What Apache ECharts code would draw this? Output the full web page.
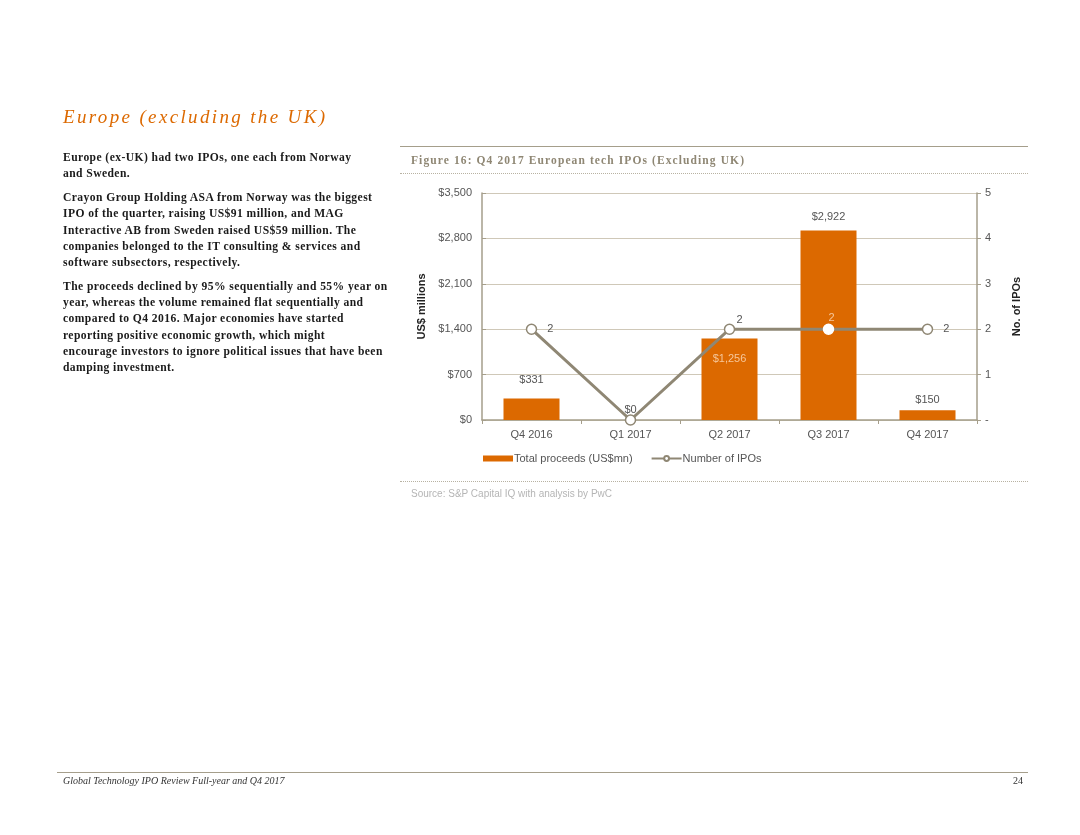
<!DOCTYPE html>
<html><head><meta charset="utf-8">
<script src="https://cdn.jsdelivr.net/npm/echarts@6/dist/echarts.min.js"></script>
<style>
html,body{margin:0;padding:0;background:#fff;width:1080px;height:835px;overflow:hidden;}
#chart{position:absolute;left:0;top:0;width:1080px;height:835px;}
.t{position:absolute;}
#h1{left:63px;top:106px;font-family:"Liberation Serif",serif;font-style:italic;font-size:19px;letter-spacing:2.35px;color:#dc6900;}
#body{left:63px;top:150px;font-family:"Liberation Serif",serif;font-size:11.6px;line-height:16.2px;color:#1a1a1a;font-weight:bold;letter-spacing:0.42px;white-space:nowrap;}
#body p{margin:0 0 7.8px 0;}
#cap{left:411px;top:154px;font-family:"Liberation Serif",serif;font-weight:bold;font-size:11.5px;letter-spacing:1.1px;color:#8f8774;}
#src{left:411px;top:488px;font-family:"Liberation Sans",Arial,sans-serif;font-size:10px;color:#b5b5b5;}
#foot{left:63px;top:775px;font-family:"Liberation Serif",serif;font-style:italic;font-size:10px;color:#333;}
#pg{left:1013px;top:775px;font-family:"Liberation Serif",serif;font-size:10px;color:#333;}
.ln{position:absolute;}
</style></head>
<body>
<div id="chart"></div>
<div class="t" id="h1">Europe (excluding the UK)</div>
<div class="t" id="body">
<p>Europe (ex-UK) had two IPOs, one each from Norway<br>and Sweden.</p>
<p>Crayon Group Holding ASA from Norway was the biggest<br>IPO of the quarter, raising US$91 million, and MAG<br>Interactive AB from Sweden raised US$59 million. The<br>companies belonged to the IT consulting &amp; services and<br>software subsectors, respectively.</p>
<p>The proceeds declined by 95% sequentially and 55% year on<br>year, whereas the volume remained flat sequentially and<br>compared to Q4 2016. Major economies have started<br>reporting positive economic growth, which might<br>encourage investors to ignore political issues that have been<br>damping investment.</p>
</div>
<div class="ln" style="left:400px;top:146px;width:628px;height:0;border-top:1.5px solid #a59e8b;"></div>
<div class="t" id="cap">Figure 16: Q4 2017 European tech IPOs (Excluding UK)</div>
<div class="ln" style="left:400px;top:173px;width:628px;height:0;border-top:1px dotted #b8b2a2;"></div>
<div class="ln" style="left:400px;top:481px;width:628px;height:0;border-top:1px dotted #b8b2a2;"></div>
<div class="t" id="src">Source: S&amp;P Capital IQ with analysis by PwC</div>
<div class="ln" style="left:57px;top:772px;width:971px;height:0;border-top:1px solid #a59e8b;"></div>
<div class="t" id="foot">Global Technology IPO Review Full-year and Q4 2017</div>
<div class="t" id="pg">24</div>
<script>
var categories = ["Q4 2016","Q1 2017","Q2 2017","Q3 2017","Q4 2017"];
var proceeds = [331, 0, 1256, 2922, 150];
var ipoCount = [2, 0, 2, 2, 2];
var leftTicks = ["$0","$700","$1,400","$2,100","$2,800","$3,500"];
var rightTicks = ["-","1","2","3","4","5"];

var orange = "#dc6900", lineC = "#8f8774", axisC = "#a59e8b", txt = "#555";
var font = "Liberation Sans";

var barData = proceeds.map(function(v,i){
  var d = {value:v};
  if (i === 0) d.label = {distance: 13};
  if (i === 2) d.label = {position:"insideTop", distance: 15, color:"#f6c79a"};
  if (i === 3) d.label = {distance: 8};
  return d;
});
var lineData = ipoCount.map(function(v,i){
  var d = {value:v};
  if (i === 0 || i === 4) d.label = {show:true, position:"right", distance:10};
  if (i === 1) d.label = {show:false};
  if (i === 2) d.label = {show:true, position:"top", offset:[10,8], distance:6};
  if (i === 3) { d.label = {show:true, position:"top", offset:[3,8], distance:8, color:"#f6c79a"}; d.itemStyle = {borderColor:"#fff"}; }
  return d;
});

var chart = echarts.init(document.getElementById("chart"), null, {renderer:"canvas"});
chart.setOption({
  animation:false,
  textStyle:{fontFamily:font},
  grid:{left:482, right:103, top:193, bottom:415},
  legend:{
    left:478, top:448, itemGap:18, itemWidth:30, itemHeight:6,
    textStyle:{fontFamily:font, fontSize:11, color:txt, padding:[0,0,0,-4]},
    data:[{name:"Total proceeds (US$mn)", icon:"rect"},{name:"Number of IPOs"}]
  },
  xAxis:{
    type:"category", data:categories,
    axisLine:{lineStyle:{color:axisC, width:1.5}},
    axisTick:{show:true, alignWithLabel:false, length:4, lineStyle:{color:axisC}},
    axisLabel:{color:txt, fontSize:11, margin:9, fontFamily:font}
  },
  yAxis:[{
    type:"value", min:0, max:3500, interval:700,
    name:"US$ millions", nameLocation:"middle", nameGap:55, nameRotate:90,
    nameTextStyle:{fontFamily:font, fontWeight:"bold", fontSize:11, color:"#222"},
    axisLine:{show:true, lineStyle:{color:axisC, width:1.5}},
    axisTick:{show:true, inside:true, length:4, lineStyle:{color:axisC}},
    splitLine:{lineStyle:{color:"#cfc8b8", width:1}},
    axisLabel:{color:txt, fontSize:11, margin:10, fontFamily:font,
      formatter:function(v){return leftTicks[Math.round(v/700)];}}
  },{
    type:"value", min:0, max:5, interval:1,
    name:"No. of IPOs", nameLocation:"middle", nameGap:34, nameRotate:90,
    nameTextStyle:{fontFamily:font, fontWeight:"bold", fontSize:11, color:"#222"},
    axisLine:{show:true, lineStyle:{color:axisC, width:1.5}},
    axisTick:{show:true, length:4, lineStyle:{color:axisC}},
    splitLine:{show:false},
    axisLabel:{color:txt, fontSize:11, margin:8, fontFamily:font,
      formatter:function(v){return rightTicks[Math.round(v)];}}
  }],
  series:[{
    name:"Total proceeds (US$mn)", type:"bar", data:barData, barWidth:56,
    itemStyle:{color:orange},
    label:{show:true, position:"top", distance:5, color:txt, fontSize:11, fontFamily:font,
      formatter:function(p){return "$"+p.value.toLocaleString("en-US");}}
  },{
    name:"Number of IPOs", type:"line", yAxisIndex:1, data:lineData,
    symbol:"circle", symbolSize:10, z:5,
    lineStyle:{color:lineC, width:3},
    itemStyle:{color:"#fff", borderColor:lineC, borderWidth:1.5},
    label:{show:true, color:txt, fontSize:11, fontFamily:font}
  }]
});
</script>
</body></html>
